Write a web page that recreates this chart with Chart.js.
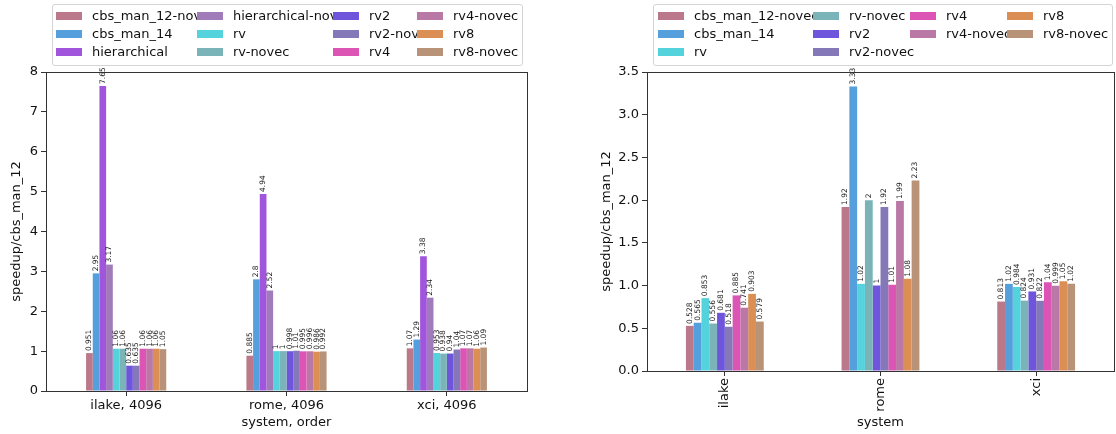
<!DOCTYPE html>
<html>
<head>
<meta charset="utf-8">
<script src="https://cdn.jsdelivr.net/npm/chart.js@4/dist/chart.umd.min.js"></script>
<style>
  html, body { margin: 0; padding: 0; background: #fff; }
  #wrap { position: relative; width: 1116px; height: 434px; overflow: hidden; font-family: "DejaVu Sans", sans-serif; }
  canvas { position: absolute; top: 0; }
  .legend { position: absolute; border: 1px solid #d4d4d4; border-radius: 3px; background: rgba(255,255,255,0.85); z-index: 5; }
  .lg-text { position: absolute; font-size: 13px; line-height: 15px; color: #111; white-space: nowrap; z-index: 1; }
  .lg-patch { position: absolute; width: 26px; height: 8px; z-index: 2; }
</style>
</head>
<body>
<div id="wrap">
  <canvas id="left" width="560" height="434" style="left:0px"></canvas>
  <canvas id="right" width="556" height="434" style="left:560px"></canvas>
</div>
<script>
// ---------- DATA ----------
const leftCategories = ['ilake, 4096', 'rome, 4096', 'xci, 4096'];
const rightCategories = ['ilake', 'rome', 'xci'];

const leftSeriesNames = ['cbs_man_12-novec', 'cbs_man_14', 'hierarchical', 'hierarchical-novec', 'rv', 'rv-novec',
                         'rv2', 'rv2-novec', 'rv4', 'rv4-novec', 'rv8', 'rv8-novec'];
const rightSeriesNames = ['cbs_man_12-novec', 'cbs_man_14', 'rv', 'rv-novec', 'rv2', 'rv2-novec',
                          'rv4', 'rv4-novec', 'rv8', 'rv8-novec'];

// left panel (system, order)
const L_cbs_man_12_novec   = [0.951, 0.885, 1.07];
const L_cbs_man_14         = [2.95, 2.8, 1.29];
const L_hierarchical       = [7.65, 4.94, 3.38];
const L_hierarchical_novec = [3.17, 2.52, 2.34];
const L_rv                 = [1.06, 1, 0.953];
const L_rv_novec           = [1.06, 1, 0.938];
const L_rv2                = [0.635, 0.998, 0.94];
const L_rv2_novec          = [0.635, 1.01, 1.04];
const L_rv4                = [1.06, 0.995, 1.07];
const L_rv4_novec          = [1.06, 0.996, 1.07];
const L_rv8                = [1.06, 0.986, 1.06];
const L_rv8_novec          = [1.05, 0.992, 1.09];

// right panel (system)
const R_cbs_man_12_novec = [0.528, 1.92, 0.813];
const R_cbs_man_14       = [0.565, 3.33, 1.02];
const R_rv               = [0.853, 1.02, 0.984];
const R_rv_novec         = [0.556, 2, 0.824];
const R_rv2              = [0.681, 1, 0.931];
const R_rv2_novec        = [0.518, 1.92, 0.822];
const R_rv4              = [0.885, 1.01, 1.04];
const R_rv4_novec        = [0.741, 1.99, 0.999];
const R_rv8              = [0.903, 1.08, 1.05];
const R_rv8_novec        = [0.579, 2.23, 1.02];

const leftTicks = [0, 1, 2, 3, 4, 5, 6, 7, 8];
const rightTicks = [0, 0.5, 1, 1.5, 2, 2.5, 3, 3.5];

// ---------- STYLE ----------
const seriesColors = {
  'cbs_man_12-novec': '#ba788a',
  'cbs_man_14': '#55a0dc',
  'hierarchical': '#a055dc',
  'hierarchical-novec': '#a07ab9',
  'rv': '#55d3dc',
  'rv-novec': '#7ab4b9',
  'rv2': '#6e55dc',
  'rv2-novec': '#8478b9',
  'rv4': '#dc55b4',
  'rv4-novec': '#b978a6',
  'rv8': '#dc8f55',
  'rv8-novec': '#b99378'
};

const leftValues = [L_cbs_man_12_novec, L_cbs_man_14, L_hierarchical, L_hierarchical_novec, L_rv, L_rv_novec,
                    L_rv2, L_rv2_novec, L_rv4, L_rv4_novec, L_rv8, L_rv8_novec];
const rightValues = [R_cbs_man_12_novec, R_cbs_man_14, R_rv, R_rv_novec, R_rv2, R_rv2_novec,
                     R_rv4, R_rv4_novec, R_rv8, R_rv8_novec];

const FONT = '"DejaVu Sans", sans-serif';
const TXT = '#111';
const AX = '#333';

const labelsAndFrame = {
  id: 'labelsAndFrame',
  afterDatasetsDraw(chart) {
    const ctx = chart.ctx;
    ctx.save();
    ctx.font = '7.5px ' + FONT;
    ctx.fillStyle = '#222';
    ctx.textAlign = 'left';
    ctx.textBaseline = 'middle';
    chart.data.datasets.forEach((ds, i) => {
      const meta = chart.getDatasetMeta(i);
      meta.data.forEach((bar, j) => {
        ctx.save();
        ctx.translate(bar.x, bar.y - 2);
        ctx.rotate(-Math.PI / 2);
        ctx.fillText(String(ds.data[j]), 0, 0);
        ctx.restore();
      });
    });
    ctx.restore();
  },
  afterDraw(chart) {
    const a = chart.chartArea;
    const ctx = chart.ctx;
    ctx.save();
    ctx.strokeStyle = AX;
    ctx.lineWidth = 1;
    ctx.strokeRect(Math.round(a.left) + 0.5, Math.round(a.top) + 0.5,
                   Math.round(a.right - a.left), Math.round(a.bottom - a.top));
    ctx.restore();
  }
};

function makeChart(id, cats, names, values, ticks, yMax, stepFmt, cfg) {
  return new Chart(document.getElementById(id), {
    type: 'bar',
    data: {
      labels: cats,
      datasets: names.map((n, i) => ({
        label: n,
        data: values[i],
        backgroundColor: seriesColors[n],
        borderWidth: 0,
        categoryPercentage: 0.5,
        barPercentage: 1.0
      }))
    },
    options: {
      responsive: false,
      animation: false,
      devicePixelRatio: 1,
      layout: { padding: { left: 0, top: 72, right: cfg.padRight, bottom: 0 } },
      plugins: { legend: { display: false }, tooltip: { enabled: false } },
      scales: {
        x: {
          grid: { display: true, drawOnChartArea: false, drawTicks: true, tickLength: 5, color: AX, offset: false },
          border: { display: true, color: AX, width: 1 },
          ticks: { color: TXT, font: { family: FONT, size: 13 }, padding: 2,
                   minRotation: cfg.rot, maxRotation: cfg.rot, autoSkip: false },
          title: { display: true, text: cfg.xTitle, color: TXT, font: { family: FONT, size: 13 },
                   padding: { top: 0, bottom: 4 } },
          afterFit(scale) { scale.height = cfg.xHeight; }
        },
        y: {
          min: 0, max: yMax,
          grid: { display: true, drawOnChartArea: false, drawTicks: true, tickLength: 5, color: AX },
          border: { display: true, color: AX, width: 1 },
          afterBuildTicks(scale) { scale.ticks = ticks.map(v => ({ value: v })); },
          ticks: { color: TXT, font: { family: FONT, size: 13 }, padding: 3,
                   callback: v => stepFmt(v) },
          title: { display: true, text: 'speedup/cbs_man_12', color: TXT, font: { family: FONT, size: 13 },
                   padding: { top: cfg.yTitlePad, bottom: 0 } },
          afterFit(scale) { scale.width = cfg.yWidth; }
        }
      }
    },
    plugins: [labelsAndFrame]
  });
}

makeChart('left', leftCategories, leftSeriesNames, leftValues, leftTicks, 8, v => String(v),
  { padRight: 33, xHeight: 43, yWidth: 46, rot: 0, xTitle: 'system, order', yTitlePad: 9 });
makeChart('right', rightCategories, rightSeriesNames, rightValues, rightTicks, 3.5, v => v.toFixed(1),
  { padRight: 2, xHeight: 63, yWidth: 87, rot: 90, xTitle: 'system', yTitlePad: 39 });

// ---------- LEGENDS (HTML, built from the series names) ----------
function buildLegend(names, box, colX, rowY) {
  const wrap = document.getElementById('wrap');
  const lg = document.createElement('div');
  lg.className = 'legend';
  lg.style.left = box.x + 'px'; lg.style.top = box.y + 'px';
  lg.style.width = box.w + 'px'; lg.style.height = box.h + 'px';
  wrap.appendChild(lg);
  const ncol = 4;
  const base = Math.floor(names.length / ncol), extra = names.length % ncol;
  let idx = 0;
  for (let c = 0; c < ncol; c++) {
    const cnt = base + (c < extra ? 1 : 0);
    for (let r = 0; r < cnt; r++, idx++) {
      const n = names[idx];
      const p = document.createElement('div');
      p.className = 'lg-patch';
      p.style.background = seriesColors[n];
      p.style.left = (colX[c] - box.x - 1) + 'px';
      p.style.top = (rowY[r] - box.y - 1 - 4) + 'px';
      lg.appendChild(p);
      const t = document.createElement('div');
      t.className = 'lg-text';
      t.textContent = n;
      t.style.left = (colX[c] - box.x - 1 + 36) + 'px';
      t.style.top = (rowY[r] - box.y - 1 - 8) + 'px';
      lg.appendChild(t);
    }
  }
}
buildLegend(leftSeriesNames, { x: 52, y: 4, w: 469, h: 60 }, [56, 197, 333, 417], [16, 34, 52]);
buildLegend(rightSeriesNames, { x: 653, y: 4, w: 458, h: 60 }, [658, 813, 910, 1007], [16, 34, 52]);
</script>
</body>
</html>
